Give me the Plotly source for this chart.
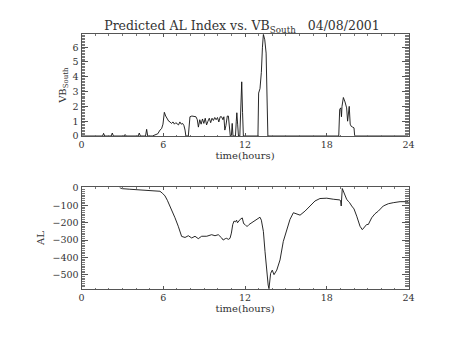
import plotly.graph_objects as go

# Interplanetary driver: southward IMF component times solar-wind speed
vb_hours = [0, 1.55, 1.62, 1.7, 2.18, 2.26, 2.34, 3.12, 3.2, 3.28, 4.16, 4.24, 4.32,
            4.7, 4.78, 4.86, 5.2, 5.4, 5.6, 5.76, 5.88, 5.98, 6.08, 6.18, 6.28, 6.4,
            6.5, 6.6, 6.72, 6.82, 6.92, 7.02, 7.12, 7.22, 7.32, 7.42, 7.52, 7.6, 7.66,
            7.84, 7.96, 8.1, 8.25, 8.4, 8.5, 8.58, 8.68, 8.78, 8.88, 8.98, 9.08, 9.18,
            9.28, 9.38, 9.48, 9.58, 9.68, 9.78, 9.88, 9.98, 10.08, 10.18, 10.28, 10.38,
            10.45, 10.52, 10.6, 10.7, 10.78, 10.85, 10.92, 11.0, 11.06, 11.12, 11.3,
            11.36, 11.4, 11.46, 11.52, 11.62, 11.68, 11.76, 11.82, 11.88, 12.95, 13.0,
            13.1, 13.2, 13.28, 13.35, 13.45, 13.55, 13.62, 13.68, 18.88, 18.95, 19.03,
            19.08, 19.12, 19.22, 19.34, 19.46, 19.53, 19.6, 19.65, 19.72, 19.8, 19.9,
            20.0, 20.05, 24]
vb_south = [0, 0, 0.18, 0, 0, 0.2, 0, 0, 0.1, 0, 0, 0.2, 0,
            0, 0.45, 0, 0, 0.05, 0.15, 0.4, 0.5, 0.8, 1.6, 1.35, 1.2, 1.0,
            0.95, 0.85, 0.95, 0.8, 0.9, 0.85, 0.75, 0.95, 0.8, 0.85, 0.7, 0.4, 0,
            0, 1.3, 1.35, 1.3, 1.3, 1.1, 0.6, 1.1, 0.8, 1.15, 0.85, 1.2, 0.75,
            1.0, 1.2, 0.9, 1.2, 1.05, 1.25, 1.1, 1.25, 0.95, 1.3, 1.3, 1.1,
            1.3, 0.4, 0.7, 1.35, 1.35, 0.5, 0, 0, 0.85, 0, 0,
            1.0, 1.57, 0.8, 0, 0, 1.8, 3.66, 1.6, 0, 0, 2.9,
            3.2, 4.3, 6.0, 6.87, 6.5, 5.6, 2.5, 0, 0, 1.8, 1.9,
            1.3, 2.0, 2.6, 2.3, 1.9, 1.0, 1.8, 2.0, 0.8, 0.65, 0.6,
            0.55, 0, 0]

# Predicted auroral electrojet AL index (nT)
al_hours = [2.8, 2.9, 3.0, 3.5, 4.0, 4.5, 5.0, 5.5, 5.76, 5.95, 6.13, 6.3, 6.5, 6.7,
            6.86, 7.1, 7.35, 7.6, 7.84, 8.09, 8.33, 8.57, 8.82, 9.19, 9.55, 9.8,
            10.04, 10.29, 10.4, 10.55, 10.65, 10.78, 10.9, 11.0, 11.1, 11.2, 11.3,
            11.38, 11.45, 11.55, 11.65, 11.8, 11.9, 12.0, 12.15, 12.3, 12.5, 12.7,
            12.9, 13.1, 13.2, 13.35, 13.47, 13.59, 13.7, 13.76, 13.82, 13.88, 14.0,
            14.08, 14.13, 14.33, 14.57, 14.81, 15.06, 15.3, 15.55, 15.79, 16.04, 16.4,
            16.77, 17.14, 17.5, 18.0, 18.48, 18.96, 19.02, 19.06, 19.14, 19.2, 19.3,
            19.46, 19.58, 19.66, 19.83, 20.0, 20.2, 20.44, 20.61, 20.8, 20.93, 21.05,
            21.3, 21.54, 21.78, 22.15, 22.52, 22.88, 23.38, 23.87, 24.0]
al_index = [3, -2, -3, -6, -9, -11, -13, -16, -18, -30, -45, -70, -103, -140,
            -171, -220, -279, -285, -275, -288, -278, -292, -278, -278, -269, -275,
            -269, -288, -300, -292, -290, -296, -290, -260, -210, -190, -195,
            -185, -200, -190, -180, -172, -205, -210, -222, -210, -200, -190,
            -180, -168, -185, -250, -367, -484, -560, -581, -540, -493, -474,
            -495, -500, -474, -415, -308, -240, -181, -142, -148, -156, -133,
            -103, -74, -60, -58, -64, -68, -74, -103, -2, -15, -30,
            -64, -76, -82, -103, -120, -162, -220, -240, -220, -210, -210,
            -171, -148, -133, -103, -90, -84, -78, -78, -78]

x_ticks = [0, 6, 12, 18, 24]
vb_range = [0, 6.87]
al_range = [-583, 5]

W, H = 454, 341

def fx(px):
    return px / W

def fy(py):
    return 1 - py / H

FONT = "DejaVu Serif"
TXT = "#333333"
FRAME = "#555555"
MINOR = "#777777"
NB = "\u00a0"

fig = go.Figure()
fig.add_trace(go.Scatter(x=vb_hours, y=vb_south, mode="lines",
                         line=dict(color="#111111", width=0.9),
                         xaxis="x", yaxis="y", showlegend=False))
fig.add_trace(go.Scatter(x=al_hours, y=al_index, mode="lines",
                         line=dict(color="#111111", width=0.9),
                         xaxis="x2", yaxis="y2", showlegend=False))

def xaxis(anchor):
    return dict(domain=[fx(81.5), fx(408.5)], range=[0, 24], tickvals=x_ticks, anchor=anchor,
                ticks="inside", ticklen=3, tickcolor=FRAME,
                showline=True, linecolor=FRAME, mirror="ticks",
                minor=dict(dtick=1, ticks="inside", ticklen=1.5, tickcolor=MINOR),
                showgrid=False, zeroline=False, automargin=False,
                tickfont=dict(family=FONT, size=9.5, color=TXT),
                title=dict(text="time(hours)", standoff=2,
                           font=dict(family=FONT, size=10, color=TXT)))

def yaxis(domain, rng, dtick, minor, anchor, title, standoff):
    return dict(domain=domain, range=rng, dtick=dtick, anchor=anchor,
                ticks="inside", ticklen=6.5, tickcolor=FRAME,
                showline=True, linecolor=FRAME, mirror="ticks",
                minor=dict(dtick=minor, ticks="inside", ticklen=3.3, tickcolor=MINOR),
                showgrid=False, zeroline=False, automargin=False,
                tickfont=dict(family=FONT, size=9.5, color=TXT),
                title=dict(text=title, standoff=standoff,
                           font=dict(family=FONT, size=10, color=TXT)))

fig.update_layout(
    width=W, height=H, margin=dict(l=0, r=0, t=0, b=0),
    paper_bgcolor="white", plot_bgcolor="white",
    title=dict(text="Predicted AL Index vs. VB<sub>South</sub>" + NB * 3 + "04/08/2001",
               x=fx(242), xanchor="center", xref="paper",
               y=fy(25.5), yanchor="middle", yref="paper",
               font=dict(family=FONT, size=12.5, color=TXT)),
    xaxis=xaxis("y"),
    yaxis=yaxis([fy(136), fy(34.3)], vb_range, 1, 0.1, "x", "VB<sub>South</sub>", 4),
    xaxis2=xaxis("y2"),
    yaxis2=yaxis([fy(289), fy(187.3)], al_range, 100, 10, "x2", "AL", 5),
)

fig.write_html("out.html")
